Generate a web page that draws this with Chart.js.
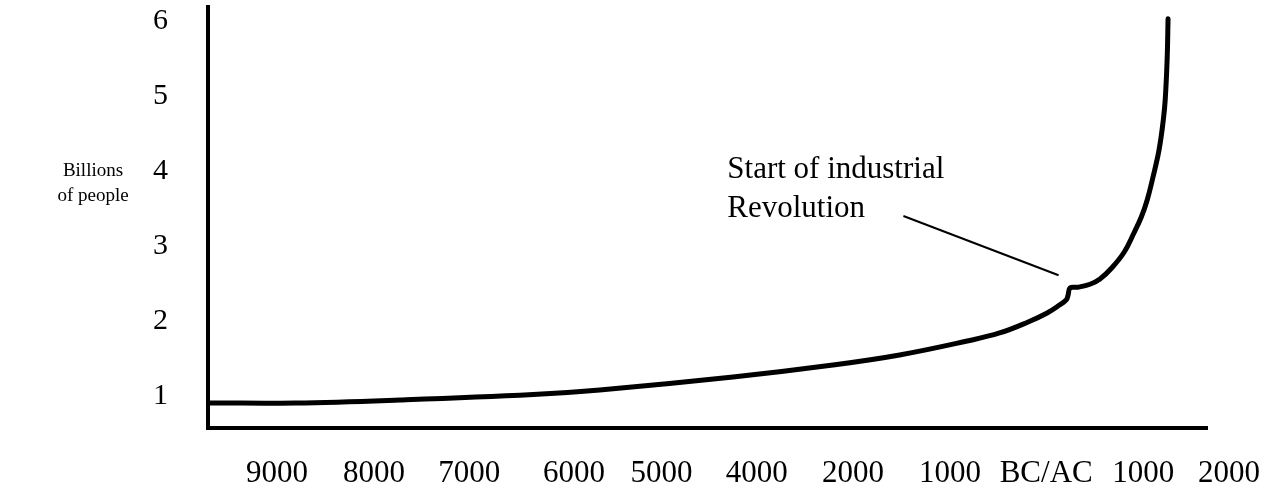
<!DOCTYPE html>
<html>
<head>
<meta charset="utf-8">
<script src="https://cdn.jsdelivr.net/npm/chart.js@4.4.1/dist/chart.umd.min.js"></script>
<style>
  html, body { margin: 0; padding: 0; background: #fff; }
  canvas { display: block; }
</style>
</head>
<body>
<canvas id="c" width="1265" height="488"></canvas>
<script>
// ---- data ----
const xLabels = ['9000', '8000', '7000', '6000', '5000', '4000', '2000', '1000', 'BC/AC', '1000', '2000'];
const xTickPos = [0, 1.02, 2.02, 3.12, 4.04, 5.04, 6.05, 7.07, 8.08, 9.10, 10.0];
const yTicks = [1, 2, 3, 4, 5, 6];
const curveX = [-0.70, 0.19, 1.29, 2.69, 3.39, 4.79, 5.84, 6.54, 7.25, 7.59, 7.89, 8.09, 8.22, 8.29, 8.31, 8.33, 8.41, 8.54, 8.645, 8.77, 8.90, 9.00, 9.08, 9.14, 9.20, 9.265, 9.31, 9.33, 9.35, 9.36];
const curveY = [0.907, 0.907, 0.947, 1.02, 1.08, 1.253, 1.413, 1.547, 1.733, 1.84, 1.987, 2.107, 2.213, 2.28, 2.347, 2.44, 2.45, 2.49, 2.56, 2.71, 2.92, 3.17, 3.39, 3.61, 3.91, 4.28, 4.68, 4.95, 5.48, 6.03];
const noteLines = ['Start of industrial', 'Revolution'];
const notePos = [4.73, 4.01];           // text anchor (x, y) in data units
const pointerFrom = [6.58, 3.40];       // pointer line start
const pointerTo = [8.21, 2.61];         // pointer line end
const yTitleLines = ['Billions', 'of people'];

const points = curveX.map((x, i) => ({ x: x, y: curveY[i] }));

const annotPlugin = {
  id: 'annot',
  afterDatasetsDraw(chart) {
    const ctx = chart.ctx;
    const xs = chart.scales.x, ys = chart.scales.y;
    ctx.save();
    // pointer
    ctx.strokeStyle = '#000';
    ctx.lineWidth = 2;
    ctx.beginPath();
    ctx.moveTo(xs.getPixelForValue(pointerFrom[0]), ys.getPixelForValue(pointerFrom[1]));
    ctx.lineTo(xs.getPixelForValue(pointerTo[0]), ys.getPixelForValue(pointerTo[1]));
    ctx.stroke();
    // note text
    ctx.fillStyle = '#000';
    ctx.font = '31px "Liberation Serif", "Times New Roman", serif';
    ctx.textAlign = 'left';
    ctx.textBaseline = 'middle';
    const nx = xs.getPixelForValue(notePos[0]);
    const ny = ys.getPixelForValue(notePos[1]);
    noteLines.forEach((t, i) => ctx.fillText(t, nx, ny + i * 39));
    // y title (horizontal)
    ctx.font = '19px "Liberation Serif", "Times New Roman", serif';
    ctx.textAlign = 'center';
    const ty = ys.getPixelForValue(4);
    yTitleLines.forEach((t, i) => ctx.fillText(t, 93, ty + i * 25));
    ctx.restore();
  }
};

new Chart(document.getElementById('c'), {
  type: 'line',
  data: {
    datasets: [{
      data: points,
      borderColor: '#000',
      borderWidth: 5,
      pointRadius: 0,
      fill: false,
      tension: 0.4,
      borderCapStyle: 'round',
      borderJoinStyle: 'round'
    }]
  },
  options: {
    responsive: false,
    animation: false,
    events: [],
    layout: { padding: { top: 7, right: 58, left: 0, bottom: 0 } },
    plugins: { legend: { display: false }, tooltip: { enabled: false } },
    scales: {
      x: {
        type: 'linear',
        min: -0.725,
        max: 9.769,
        grid: { display: false, drawTicks: false },
        border: { display: true, color: '#000', width: 4 },
        ticks: {
          autoSkip: false,
          maxRotation: 0,
          padding: 27,
          color: '#000',
          font: { family: '"Liberation Serif", "Times New Roman", serif', size: 31 },
          callback: function (v, i) { return xLabels[i]; }
        },
        afterBuildTicks: function (s) { s.ticks = xTickPos.map(v => ({ value: v })); },
        afterFit: function (s) { s.height = 60; s.paddingLeft = 0; s.paddingRight = 0; }
      },
      y: {
        type: 'linear',
        min: 0.573,
        max: 6.187,
        grid: { display: false, drawTicks: false },
        border: { display: true, color: '#000', width: 4 },
        ticks: {
          padding: 40,
          color: '#000',
          font: { family: '"Liberation Serif", "Times New Roman", serif', size: 30 },
          callback: function (v) { return String(v); }
        },
        afterBuildTicks: function (s) { s.ticks = yTicks.map(v => ({ value: v })); },
        afterFit: function (s) { s.width = 208; s.paddingTop = 0; s.paddingBottom = 0; }
      }
    }
  },
  plugins: [annotPlugin]
});
</script>
</body>
</html>
